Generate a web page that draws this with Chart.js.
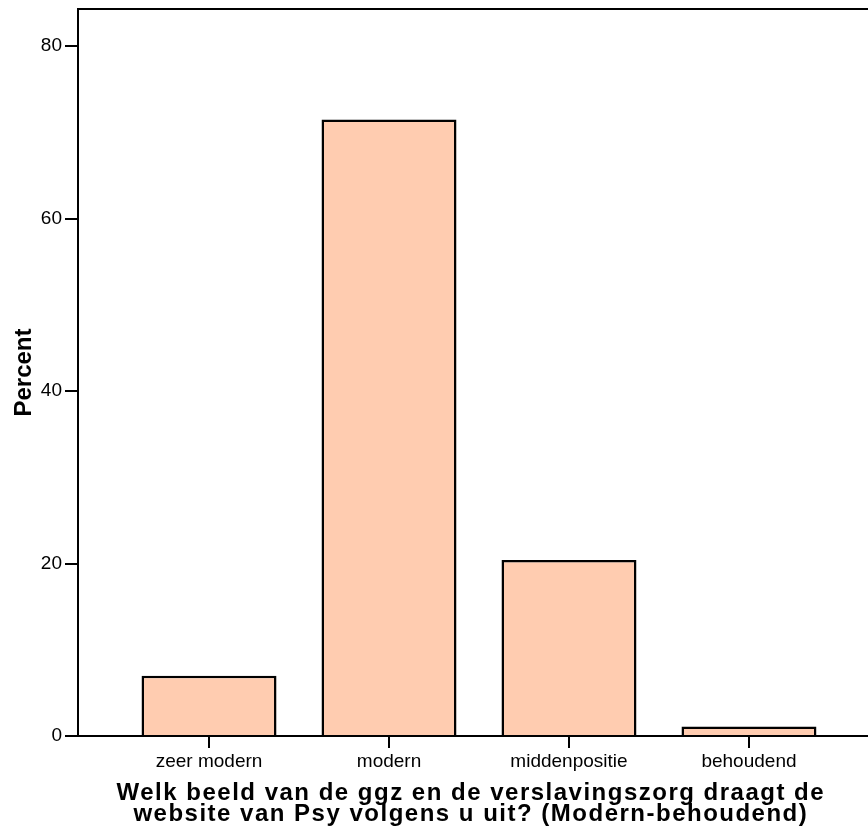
<!DOCTYPE html>
<html>
<head>
<meta charset="utf-8">
<script src="https://cdn.jsdelivr.net/npm/chart.js@4.4.1/dist/chart.umd.min.js"></script>
<style>
  body { margin: 0; background: #fff; overflow: hidden; }
  #wrap { width: 868px; height: 832px; overflow: hidden; }
</style>
</head>
<body>
<div id="wrap"><canvas id="myChart" width="890" height="832"></canvas></div>
<script>
'use strict';
let categories = ['zeer modern', 'modern', 'middenpositie', 'behoudend'];
let percents = [7.0, 71.5, 20.4, 1.1];
let yMax = 84.3;
let yStep = 20;
let xTitle = ['Welk beeld van de ggz en de verslavingszorg draagt de',
  'website van Psy volgens u uit? (Modern-behoudend)'];
let yTitle = 'Percent';

let fontFam = '"Liberation Sans", Arial, Helvetica, sans-serif';

// bars go at x = 1..n on a linear axis so the plot can run past the right edge
let points = [];
for (let i = 0; i < categories.length; i++) {
  points.push({ x: i + 1, y: percents[i] });
}

// draws the box round the plot area
let frame = {
  id: 'frame',
  afterDraw(chart) {
    let a = chart.chartArea;
    let ctx = chart.ctx;
    ctx.save();
    ctx.strokeStyle = '#000';
    ctx.lineWidth = 2;
    ctx.strokeRect(a.left, a.top, a.right - a.left, a.bottom - a.top);
    ctx.restore();
  }
};

// the original title is set in a wide face, so spread the letters a little
let wideTitle = {
  id: 'wideTitle',
  afterLayout(chart) {
    let s = chart.scales.x;
    if (s._wideTitle) return;
    let orig = s.drawTitle.bind(s);
    s.drawTitle = function () {
      chart.ctx.save();
      chart.ctx.letterSpacing = '1.5px';
      orig();
      chart.ctx.restore();
    };
    s._wideTitle = true;
  }
};

let ctx = document.getElementById('myChart').getContext('2d');
let myChart = new Chart(ctx, {
  type: 'bar',
  data: {
    datasets: [{
      data: points,
      backgroundColor: 'rgb(255, 204, 176)',
      borderColor: '#000',
      borderWidth: 2.5,
      barPercentage: 0.75,
      categoryPercentage: 1
    }]
  },
  options: {
    responsive: false,
    animation: false,
    layout: { padding: { top: 9, right: 10, left: 0, bottom: 0 } },
    plugins: { legend: { display: false }, tooltip: { enabled: false } },
    scales: {
      x: {
        type: 'linear',
        min: 0.272,
        max: categories.length + 0.728,
        offset: false,
        afterBuildTicks(scale) {
          scale.ticks = categories.map((c, i) => ({ value: i + 1 }));
        },
        afterFit(scale) { scale.height = 96; },
        ticks: {
          color: '#000',
          font: { family: fontFam, size: 19 },
          padding: 2,
          maxRotation: 0,
          autoSkip: false,
          callback: (v) => categories[v - 1]
        },
        grid: {
          offset: false,
          drawOnChartArea: false,
          drawTicks: true,
          tickLength: 12,
          color: '#000',
          lineWidth: 2
        },
        border: { display: true, color: '#000', width: 2 },
        title: {
          display: true,
          // trailing spaces nudge the centred lines a bit to the left
          text: xTitle.map(t => t + '  '),
          color: '#000',
          font: { family: fontFam, size: 24, weight: 'bold', lineHeight: 0.84 },
          padding: { top: 0, bottom: 8 }
        }
      },
      y: {
        min: 0,
        max: yMax,
        afterFit(scale) {
          scale.width = 78;
          scale.paddingTop = 0;
          scale.paddingBottom = 0;
        },
        ticks: {
          stepSize: yStep,
          includeBounds: false,
          color: '#000',
          font: { family: fontFam, size: 19 },
          padding: 3
        },
        grid: {
          drawOnChartArea: false,
          drawTicks: true,
          tickLength: 13,
          color: '#000',
          lineWidth: 2
        },
        border: { display: true, color: '#000', width: 2 },
        title: {
          display: true,
          text: yTitle,
          color: '#000',
          font: { family: fontFam, size: 24, weight: 'bold', lineHeight: 1 },
          padding: { top: 12, bottom: 0 }
        }
      }
    }
  },
  plugins: [frame, wideTitle]
});
</script>
</body>
</html>
